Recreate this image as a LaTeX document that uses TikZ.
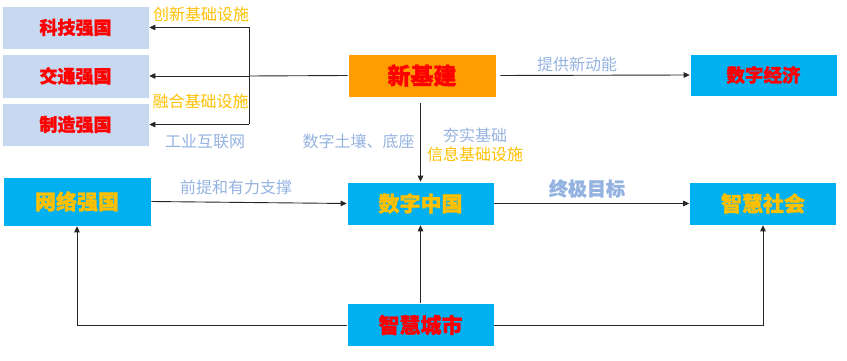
\documentclass[tikz,border=0pt]{standalone}
\usepackage{fontspec}
\setmainfont{Noto Sans CJK SC}[BoldFeatures={FakeBold=1.2}]
\usetikzlibrary{arrows.meta}
\definecolor{lblue}{HTML}{C6D9F0}
\definecolor{cyanbox}{HTML}{00B0F0}
\definecolor{orangebox}{HTML}{FF9C00}
\definecolor{goldtext}{HTML}{FFC000}
\definecolor{lbltext}{HTML}{95B3E0}
\begin{document}
\begin{tikzpicture}[x=1pt,y=-1pt,
  box/.style={rectangle, inner sep=0pt, draw=white, line width=0.6pt},
  lbox/.style={box, fill=lblue, minimum width=147pt, minimum height=43pt, text=red, font=\bfseries\fontsize{18}{18}\selectfont},
  cbox/.style={box, fill=cyanbox, minimum width=147pt, minimum height=43pt, font=\bfseries\fontsize{21}{21}\selectfont},
  conn/.style={draw=black!85, line width=0.9pt},
  arr/.style={conn, -{Triangle[length=6pt,width=5.5pt]}},
  lbl/.style={text=lbltext, inner sep=0pt, font=\fontsize{16}{16}\selectfont},
  glbl/.style={text=goldtext, inner sep=0pt, font=\fontsize{16}{16}\selectfont}]
\useasboundingbox (0,0) rectangle (847,361);

% left boxes
\node[lbox] (kj) at (75.5,27.5) {科技强国};
\node[lbox, minimum height=44pt] (jt) at (75.5,76) {交通强国};
\node[lbox] (zz) at (75.5,124.5) {制造强国};

% top row
\node[box, fill=orangebox, minimum width=148pt, minimum height=43pt, text=red, font=\bfseries\fontsize{23}{23}\selectfont] (xjj) at (422,75.5) {新基建};
\node[cbox, text=red, font=\bfseries\fontsize{18.5}{18.5}\selectfont, minimum height=42pt] (szjj) at (763.5,75) {数字经济};

% middle row
\node[cbox, text=goldtext, minimum width=148pt, minimum height=49pt] (wlqg) at (77,201.5) {网络强国};
\node[cbox, text=goldtext] (szzg) at (420.5,203.5) {数字中国};
\node[cbox, text=goldtext] (zhsh) at (763,203.5) {智慧社会};

% bottom
\node[cbox, text=red] (zhcs) at (420.5,325) {智慧城市};

% left bus
\coordinate (bus) at (249,76);
\draw[conn] (xjj.west) -- (bus);
\draw[conn] (bus |- kj.east) -- (bus |- zz.east);
\draw[arr] (bus |- kj.east) -- (kj.east);
\draw[arr] (bus) -- (jt.east);
\draw[arr] (bus |- zz.east) -- (zz.east);

\node[glbl] (l1) at (201,14.5) {创新基础设施};
\node[glbl] (l2) at (200.5,101) {融合基础设施};
\node[lbl] (l3) at (205,141.5) {工业互联网};

% new energy
\draw[arr, shorten <=4pt] (xjj.east) -- (szjj.west);
\node[lbl] (l4) at (577,64) {提供新动能};

% down to digital China
\draw[arr, shorten <=6pt] (xjj.south -| szzg.north) -- (szzg.north);
\node[lbl] (l5) at (358.5,141) {数字土壤、底座};
\node[lbl] (l6) at (475,135) {夯实基础};
\node[glbl] (l7) at (475,154.5) {信息基础设施};

% middle arrows
\draw[arr] (wlqg.east) -- (szzg.west);
\node[lbl] (l8) at (236,187) {前提和有力支撑};
\draw[arr] (szzg.east) -- (zhsh.west);
\node[lbl, font=\bfseries\fontsize{19}{19}\selectfont] (l9) at (587,188.5) {终极目标};

% from smart city
\draw[arr] (zhcs.north) -- (szzg.south);
\draw[arr] (zhcs.west) -| (wlqg.south);
\draw[arr] (zhcs.east) -| (zhsh.south);
\end{tikzpicture}
\end{document}
